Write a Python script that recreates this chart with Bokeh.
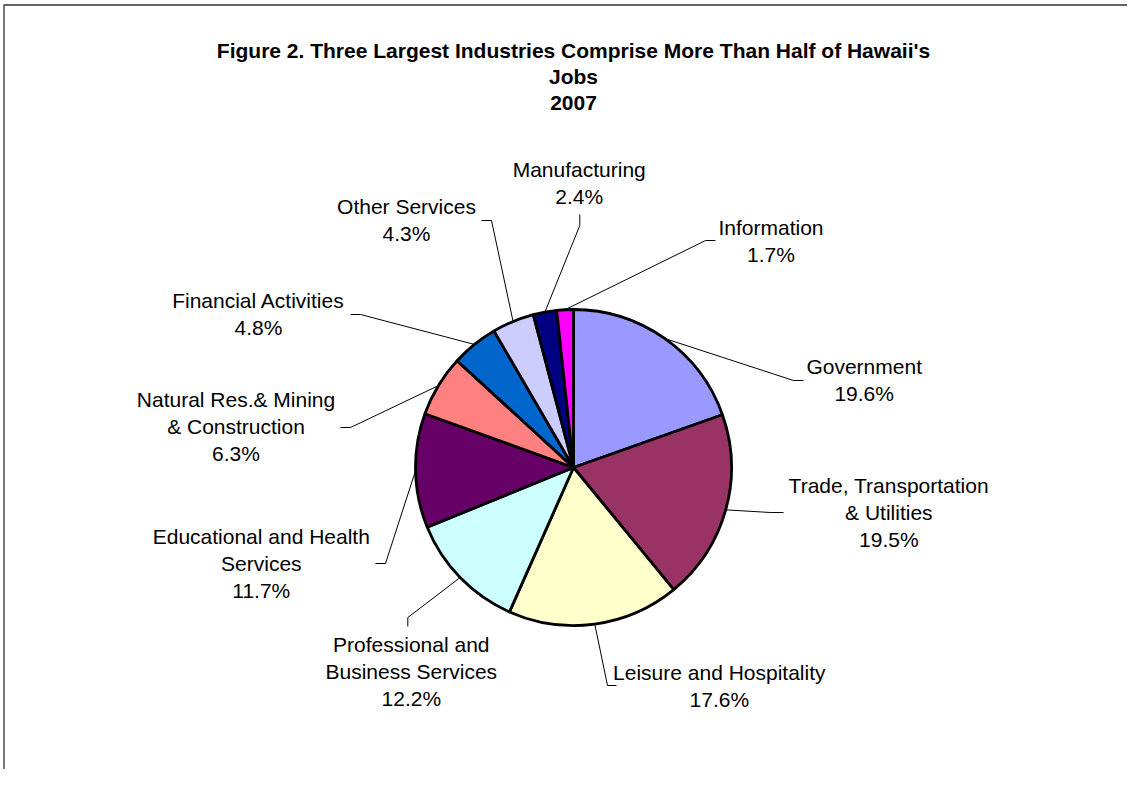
import math
from bokeh.plotting import figure
from bokeh.models import Range1d, ColumnDataSource
from bokeh.core.properties import value
from bokeh.embed import file_html
from bokeh.resources import INLINE

# ---- data ----
industries = ["Government", "Trade, Transportation\n& Utilities", "Leisure and Hospitality",
              "Professional and\nBusiness Services", "Educational and Health\nServices",
              "Natural Res.& Mining\n& Construction", "Financial Activities", "Other Services",
              "Manufacturing", "Information"]
shares = [19.6, 19.5, 17.6, 12.2, 11.7, 6.3, 4.8, 4.3, 2.4, 1.7]
colors = ["#9999FF", "#993366", "#FFFFCC", "#CCFFFF", "#660066",
          "#FF8080", "#0066CC", "#CCCCFF", "#000080", "#FF00FF"]
title_lines = ["Figure 2. Three Largest Industries Comprise More Than Half of Hawaii's", "Jobs", "2007"]

# ---- layout (reference pixel coords; y measured from top) ----
W, H = 1127, 769
PAGE_H = 785
def Y(py):
    return PAGE_H - py

cx, cy, R = 573, 467, 158
# label text centre (x, first line y), elbow point, tick end
label_layout = [
    ((863.7, 366), (793, 380), (803, 380)),
    ((888.3, 485), (770, 512), (783, 512)),
    ((718.8, 672), (607, 685), (616, 685)),
    ((410.8, 644), (407.3, 617), (407.3, 626)),
    ((260.8, 536), (385, 563), (375, 563)),
    ((235.5, 399), (350, 427), (340, 427)),
    ((258.0, 300), (360, 314), (350, 314)),
    ((406.0, 206), (491, 220), (481, 220)),
    ((578.7, 169), (579.3, 225), (579.3, 214)),
    ((770.5, 227), (705, 240), (715, 240)),
]
LINE_H = 26.8
FONT = "Liberation Sans"

p = figure(width=W, height=H, output_backend="svg", toolbar_location=None,
           x_range=Range1d(0, W), y_range=Range1d(PAGE_H - H, PAGE_H),
           x_axis_type=None, y_axis_type=None, min_border=0)
p.grid.visible = False
p.outline_line_color = None
p.background_fill_color = "white"
p.border_fill_color = "white"

# ---- pie ----
total = sum(shares)
starts, ends, mids = [], [], []
cum = 0.0
for s in shares:
    a0 = math.pi / 2 - 2 * math.pi * cum / total
    cum += s
    a1 = math.pi / 2 - 2 * math.pi * cum / total
    starts.append(a0)
    ends.append(a1)
    mids.append((a0 + a1) / 2)

src = ColumnDataSource(dict(start=starts, end=ends, color=colors))
p.wedge(x=cx, y=Y(cy), radius=R, start_angle="start", end_angle="end", direction="clock",
        fill_color="color", line_color="black", line_width=2.8, source=src)

# ---- leader lines ----
xs, ys = [], []
for m, (_, elbow, tick) in zip(mids, label_layout):
    ex = cx + R * math.cos(m)
    ey = Y(cy) + R * math.sin(m)
    xs.append([ex, elbow[0], tick[0]])
    ys.append([ey, Y(elbow[1]), Y(tick[1])])
p.multi_line(xs, ys, line_color="black", line_width=1)

# ---- labels ----
tx, ty, tt = [], [], []
for name, s, ((lx, ly), _, _) in zip(industries, shares, label_layout):
    lines = name.split("\n") + [f"{s:.1f}%"]
    for i, ln in enumerate(lines):
        tx.append(lx)
        ty.append(Y(ly + i * LINE_H))
        tt.append(ln)
p.text(x=tx, y=ty, text=tt, text_font=value(FONT), text_font_size="21px",
       text_align="center", text_baseline="middle", text_color="black")

# ---- title ----
p.text(x=[573] * 3, y=[Y(50), Y(76), Y(102)], text=title_lines, text_font=value(FONT),
       text_font_size="21px", text_font_style="bold", text_align="center",
       text_baseline="middle", text_color="black")

# ---- frame border (left & top) ----
p.line(x=[3.5, 3.5, W + 5], y=[0, Y(4.5), Y(4.5)], line_color="#333333", line_width=1.3)

open("out.html", "w").write(file_html(p, INLINE))
